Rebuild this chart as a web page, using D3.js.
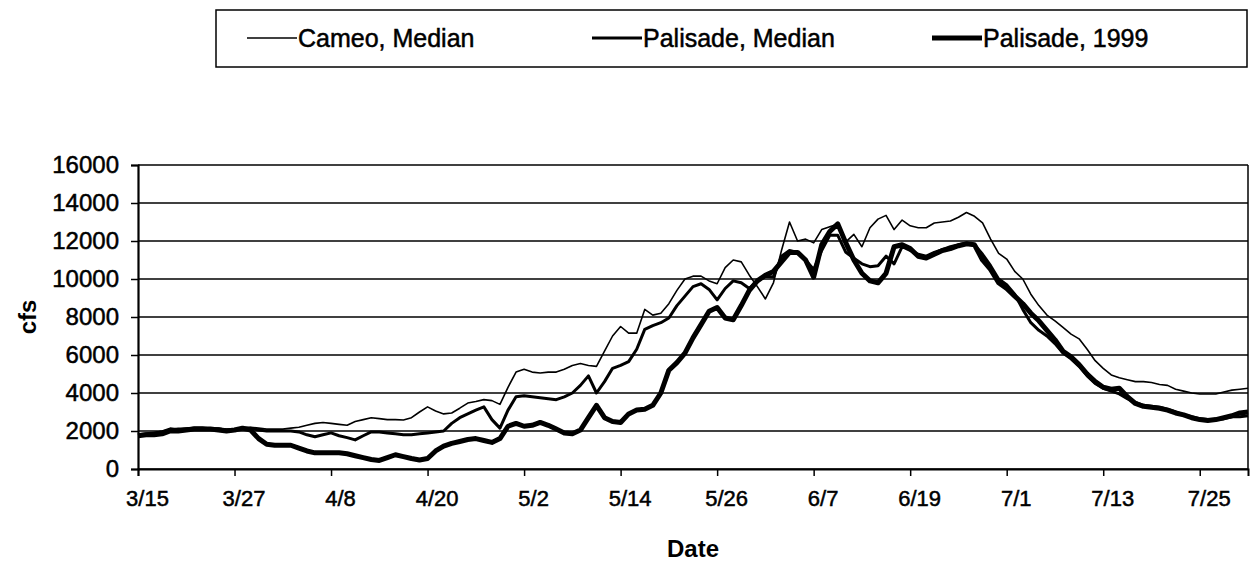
<!DOCTYPE html>
<html>
<head>
<meta charset="utf-8">
<script src="https://cdn.jsdelivr.net/npm/d3@7"></script>
<style>
  body { margin: 0; background: #fff; }
  svg { display: block; }
  text { font-family: 'Liberation Sans', Arial, sans-serif; fill: #000; }
  .heavy { stroke: #000; stroke-width: 0.5px; }
</style>
</head>
<body>
<svg id="chart" width="1250" height="573"></svg>
<script>
// day 0 = 3/15, day 138 = 7/31
var tickDays = [0, 12, 24, 36, 48, 60, 72, 84, 96, 108, 120, 132];
var tickLabels = ['3/15', '3/27', '4/8', '4/20', '5/2', '5/14', '5/26', '6/7', '6/19', '7/1', '7/13', '7/25'];
var yTicks = [0, 2000, 4000, 6000, 8000, 10000, 12000, 14000, 16000];

var cameoMedian = [
    1800, 1850, 1900, 2000, 2150, 2100, 2150, 2200, 2200, 2150,
    2150, 2100, 2100, 2200, 2200, 2150, 2100, 2100, 2100, 2150,
    2200, 2300, 2400, 2450, 2400, 2350, 2300, 2500, 2600, 2700,
    2650, 2600, 2600, 2580, 2700, 3000, 3270, 3050, 2900, 2950,
    3200, 3470, 3550, 3650, 3600, 3400, 4300, 5100, 5250, 5100,
    5050, 5100, 5100, 5250, 5450, 5550, 5450, 5400, 6200, 7000,
    7500, 7150, 7150, 8400, 8100, 8200, 8700, 9400, 10000, 10150,
    10150, 9900, 9750, 10600, 11000, 10900, 10200, 9600, 8950, 9800,
    11500, 13000, 12000, 12100, 11900, 12600, 12750, 12900, 11950, 12350,
    11700, 12700, 13150, 13350, 12600, 13100, 12800, 12700, 12700, 12950,
    13000, 13050, 13250, 13500, 13300, 12950, 12100, 11350, 11050, 10400,
    10000, 9200, 8600, 8100, 7800, 7450, 7100, 6850, 6300, 5700,
    5300, 4950, 4800, 4700, 4600, 4600, 4550, 4450, 4400, 4200,
    4100, 4000, 3950, 3950, 3950, 4050, 4150, 4200, 4250
];

var palisadeMedian = [
    1800, 1850, 1900, 1950, 2050, 2100, 2100, 2150, 2150, 2100,
    2100, 2050, 2050, 2100, 2150, 2050, 2000, 2000, 2000, 2000,
    1950, 1800, 1700, 1800, 1900, 1750, 1650, 1530, 1750, 1950,
    1950, 1900, 1850, 1800, 1800, 1850, 1900, 1950, 2000, 2400,
    2700, 2900, 3100, 3270, 2600, 2150, 3100, 3800, 3850, 3800,
    3750, 3700, 3650, 3800, 4000, 4400, 4900, 4000, 4600, 5300,
    5450, 5650, 6300, 7350, 7550, 7700, 7950, 8600, 9100, 9600,
    9750, 9450, 8900, 9500, 9900, 9800, 9500, 9900, 10150, 10100,
    11200, 11500, 11400, 11000, 10500, 11500, 12300, 12300, 11400, 11100,
    10800, 10650, 10700, 11200, 10800, 11700, 11500, 11300, 11200, 11400,
    11550, 11700, 11800, 11900, 11800, 11300, 10700, 10000, 9700, 9200,
    8400, 7700, 7300, 7000, 6600, 6100, 5800, 5400, 4900, 4500,
    4250, 4100, 3950, 3700, 3500, 3350, 3300, 3250, 3150, 3000,
    2850, 2750, 2650, 2600, 2600, 2650, 2750, 2750, 2800
];

var palisade1999 = [
    1750, 1800, 1800, 1850, 2000, 2000, 2050, 2100, 2100, 2100,
    2050, 2000, 2050, 2150, 2050, 1600, 1300, 1250, 1250, 1250,
    1100, 950, 850, 850, 850, 850, 800, 700, 600, 500,
    450, 600, 750, 650, 550, 470, 550, 950, 1200, 1350,
    1450, 1550, 1600, 1500, 1400, 1600, 2250, 2400, 2250, 2300,
    2450, 2300, 2100, 1900, 1850, 2050, 2700, 3350, 2700, 2500,
    2450, 2900, 3100, 3150, 3350, 4000, 5200, 5600, 6100, 6900,
    7600, 8300, 8500, 7950, 7850, 8600, 9400, 9900, 10200, 10400,
    10900, 11400, 11400, 11000, 10100, 11800, 12500, 12900, 11900, 11000,
    10300, 9900, 9800, 10300, 11700, 11800, 11600, 11200, 11100, 11300,
    11500, 11600, 11750, 11850, 11800, 11000, 10500, 9800, 9500, 9100,
    8700, 8200, 7800, 7300, 6800, 6200, 5900, 5500, 5000, 4600,
    4300, 4200, 4250, 3800, 3450, 3300, 3250, 3200, 3100, 2950,
    2850, 2700, 2600, 2550, 2600, 2700, 2800, 2950, 3000
];

var seriesNames = ['Cameo, Median', 'Palisade, Median', 'Palisade, 1999'];
var seriesWidths = [1.6, 3, 5];

var margin = { top: 165, right: 2, bottom: 104, left: 138 };
var width = 1250 - margin.left - margin.right;
var height = 573 - margin.top - margin.bottom;

var svg = d3.select('#chart');
var g = svg.append('g')
    .attr('transform', 'translate(' + margin.left + ',' + margin.top + ')');

var x = d3.scaleLinear().domain([0, 138]).range([0, width]);
var y = d3.scaleLinear().domain([0, 16000]).range([height, 0]);

// gridlines
g.append('g')
    .selectAll('line')
    .data(yTicks)
    .enter()
    .append('line')
    .attr('x1', 0)
    .attr('x2', width)
    .attr('y1', d => y(d))
    .attr('y2', d => y(d))
    .attr('stroke', '#000')
    .attr('stroke-width', 1.5);

// right border
g.append('line')
    .attr('x1', width).attr('x2', width)
    .attr('y1', 0).attr('y2', height)
    .attr('stroke', '#000')
    .attr('stroke-width', 1.5);

var yAxis = g.append('g')
    .call(d3.axisLeft(y).tickValues(yTicks).tickSize(7).tickPadding(12).tickFormat(d3.format('d')));
yAxis.select('.domain').attr('stroke-width', 2.2);
yAxis.selectAll('.tick line').attr('stroke-width', 1.5);
yAxis.selectAll('text')
    .attr('class', 'heavy')
    .style('font-size', '24px')
    .attr('font-family', null);

var xAxis = g.append('g')
    .attr('transform', 'translate(0,' + height + ')')
    .call(d3.axisBottom(x).tickValues(tickDays).tickSize(7).tickPadding(14)
        .tickFormat((d, i) => tickLabels[i]));
xAxis.select('.domain').attr('stroke-width', 2);
xAxis.selectAll('.tick line').attr('stroke-width', 1.5);
xAxis.selectAll('text')
    .attr('class', 'heavy')
    .style('font-size', '22px')
    .attr('dx', 9)
    .attr('font-family', null);

// lines
var line = d3.line()
    .x((d, i) => x(i))
    .y(d => y(d));

[cameoMedian, palisadeMedian, palisade1999].forEach((data, k) => {
    g.append('path')
        .datum(data)
        .attr('fill', 'none')
        .attr('stroke', '#000')
        .attr('stroke-width', seriesWidths[k])
        .attr('stroke-linejoin', 'round')
        .attr('d', line);
});

// axis titles
svg.append('text')
    .attr('x', 693)
    .attr('y', 557)
    .attr('text-anchor', 'middle')
    .style('font-size', '24px')
    .style('font-weight', 'bold')
    .text('Date');

svg.append('text')
    .attr('transform', 'translate(36,317) rotate(-90)')
    .attr('text-anchor', 'middle')
    .style('font-size', '24px')
    .style('font-weight', 'bold')
    .text('cfs');

// legend
var legend = svg.append('g');
legend.append('rect')
    .attr('x', 216)
    .attr('y', 10)
    .attr('width', 1031)
    .attr('height', 57)
    .attr('fill', 'none')
    .attr('stroke', '#000')
    .attr('stroke-width', 1.5);

var legendX = [247, 592, 932];
seriesNames.forEach((name, k) => {
    legend.append('line')
        .attr('x1', legendX[k])
        .attr('x2', legendX[k] + 50)
        .attr('y1', 38)
        .attr('y2', 38)
        .attr('stroke', '#000')
        .attr('stroke-width', seriesWidths[k]);
    legend.append('text')
        .attr('class', 'heavy')
        .attr('x', legendX[k] + 51)
        .attr('y', 47)
        .style('font-size', '25px')
        .text(name);
});
</script>
</body>
</html>
